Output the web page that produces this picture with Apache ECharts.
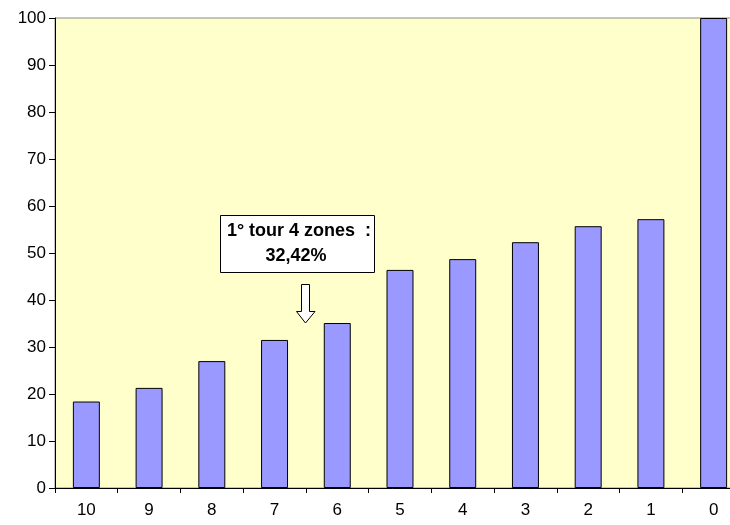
<!DOCTYPE html>
<html><head><meta charset="utf-8">
<script src="https://cdn.jsdelivr.net/npm/echarts@6/dist/echarts.min.js"></script>
<style>html,body{margin:0;padding:0;background:#fff}#c{width:730px;height:525px}</style>
</head><body><div id="c"></div>
<script>
const categories = ['10','9','8','7','6','5','4','3','2','1','0'];
const values = [18.4, 21.3, 27.0, 31.5, 35.1, 46.4, 48.7, 52.3, 55.7, 57.2, 100];
const noteLines = ['1° tour 4 zones  :', '32,42%'];

const chart = echarts.init(document.getElementById('c'), null, {renderer:'canvas'});
const font = 'Liberation Sans, Arial, sans-serif';
chart.setOption({
  animation:false,
  grid:{left:55, top:18, width:690, height:470, show:true, backgroundColor:'#FFFFCC', borderColor:'#8a8a8a', borderWidth:1, outerBoundsMode:'none', containLabel:false},
  xAxis:{type:'category', data:categories, boundaryGap:true,
    axisLine:{lineStyle:{color:'#000', width:1}},
    axisTick:{show:true, alignWithLabel:false, length:5, lineStyle:{color:'#000'}},
    axisLabel:{color:'#000', fontFamily:font, fontSize:17, margin:14}},
  yAxis:{type:'value', min:0, max:100, interval:10,
    axisLine:{show:true, lineStyle:{color:'#000', width:1}},
    axisTick:{show:true, length:6, lineStyle:{color:'#000'}},
    splitLine:{show:false},
    axisLabel:{color:'#000', fontFamily:font, fontSize:17, margin:9}},
  series:[{type:'bar', data:values, barWidth:'43%',
    itemStyle:{color:'#9999FF', borderColor:'#000', borderWidth:1}}],
  graphic:[
    {type:'rect', shape:{x:220.5, y:215.5, width:154, height:57}, style:{fill:'#fff', stroke:'#000', lineWidth:1}, z:100},
    {type:'text', x:299, y:231, style:{text:noteLines[0], font:'bold 18px '+font, fill:'#000', textAlign:'center', textVerticalAlign:'middle'}, z:101},
    {type:'text', x:296, y:256, style:{text:noteLines[1], font:'bold 18px '+font, fill:'#000', textAlign:'center', textVerticalAlign:'middle'}, z:101},
    {type:'polygon', shape:{points:[[301.5,284.5],[309.5,284.5],[309.5,311.5],[315,311.5],[305.5,323],[296.5,311.5],[301.5,311.5]]}, style:{fill:'#fff', stroke:'#000', lineWidth:1}, z:101}
  ]
});
</script></body></html>
